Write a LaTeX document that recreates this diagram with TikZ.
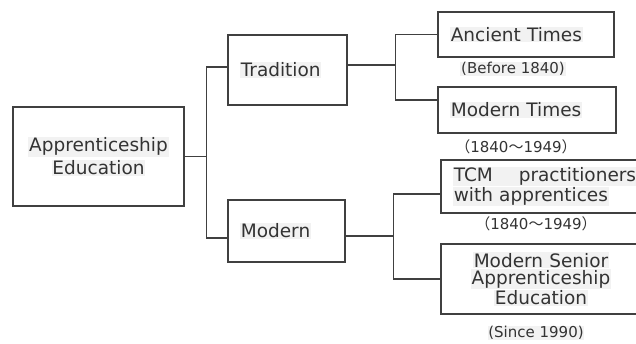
\documentclass[tikz,border=0pt]{standalone}
\usepackage{fontspec}
\setmainfont{DejaVu Sans}
\newfontfamily\cjk{Noto Sans CJK SC}
\definecolor{linegray}{HTML}{404040}
\definecolor{textgray}{HTML}{333333}
\definecolor{hlgray}{HTML}{F2F2F2}
\newcommand{\hl}[1]{{\setlength{\fboxsep}{0.8pt}\colorbox{hlgray}{#1}}}
\newcommand{\tightlines}{\lineskiplimit=-20pt\relax}

\begin{document}
\begin{tikzpicture}[x=1pt, y=-1pt,
    box/.style={draw=linegray, line width=1.3pt, text=textgray, inner xsep=12pt, inner ysep=0pt,
      font=\fontsize{18.5}{23}\selectfont},
    note/.style={text=textgray, inner sep=0pt, font=\fontsize{15}{17}\selectfont},
    link/.style={draw=linegray, line width=1.3pt}]
    \useasboundingbox (0,0) rectangle (636,343);
    \clip (0,0) rectangle (636,343);
    % Wurzel
    \node[box, minimum width=171pt, minimum height=99pt, align=center] (root) at (98.5,156.5)
        {\hl{Apprenticeship}\\\hl{Education}};
    % zweite Ebene
    \node[box, text width=95pt, minimum height=70pt, align=left] (trad) at (287.5,70) {\hl{Tradition}};
    \node[box, text width=93pt, minimum height=62pt, align=left] (mod) at (286.5,231) {\hl{Modern}};
    % dritte Ebene
    \node[box, text width=152pt, minimum height=45pt, align=left] (anc) at (526,34.5) {\hl{Ancient Times}};
    \node[box, text width=154pt, minimum height=46pt, align=left] (mt) at (527,110) {\hl{Modern Times}};
    \node[box, text width=176pt, minimum height=53pt, align=left,
        font=\fontsize{18.5}{20}\selectfont] (tcm) at (541,186.5)
        {\tightlines\hl{TCM\hspace{1.4em}practitioners}\\\hl{with apprentices}};
    \node[box, text width=176pt, minimum height=70pt, align=center,
        font=\fontsize{18.5}{17}\selectfont] (sen) at (541,279)
        {\tightlines\hl{Modern Senior}\\\hl{Apprenticeship}\\\hl{Education}};
    % Zeitangaben
    \node[note] (before) at (513,69) {\hl{(Before 1840)}};
    \node[note] (period1) at (516,147) {{\cjk （}1840{\cjk ～}1949{\cjk ）}};
    \node[note] (period2) at (536,224) {{\cjk （}1840{\cjk ～}1949{\cjk ）}};
    \node[note] (since) at (536,333) {\hl{(Since 1990)}};
    % Verbindungen
    \draw[link] (root.east) -- ++(22,0) coordinate (r1);
    \draw[link] ([yshift=3pt]trad.west) -| (r1) |- ([yshift=-7pt]mod.west);
    \draw[link] ([yshift=5pt]trad.east) -- ++(48,0) coordinate (t1);
    \draw[link] (anc.west) -| (t1) |- ([yshift=10pt]mt.west);
    \draw[link] ([yshift=-5pt]mod.east) -- ++(48,0) coordinate (m1);
    \draw[link] ([yshift=-7.5pt]tcm.west) -| (m1) |- (sen.west);
\end{tikzpicture}
\end{document}
